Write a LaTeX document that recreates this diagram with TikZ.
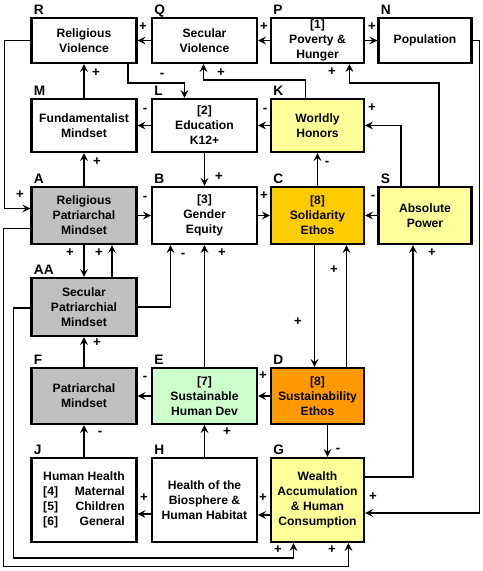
\documentclass[tikz,border=0pt]{standalone}
\usepackage{fontspec}
\setmainfont{Liberation Sans}
\usetikzlibrary{arrows,positioning,calc}
\definecolor{mindgray}{HTML}{C0C0C0}
\definecolor{paleyellow}{HTML}{FFFF99}
\definecolor{goldfill}{HTML}{FFCC00}
\definecolor{orangefill}{HTML}{FF9900}
\definecolor{palegreen}{HTML}{CCFFCC}

\begin{document}
\begin{tikzpicture}[
    x=0.02cm, y=-0.02cm,
    box/.style={rectangle, draw=black, line width=1.3pt, align=center, inner sep=0pt, font=\fontsize{6.9}{8.5}\selectfont\bfseries},
    wide/.style={minimum width=2.1cm},
    slim/.style={minimum width=1.86cm},
    arrow/.style={->, >=stealth, line width=0.95pt},
    sign/.style={font=\fontsize{7.5}{8}\selectfont\bfseries, inner sep=0pt},
    tag/.style={font=\fontsize{7.8}{8}\selectfont\bfseries, inner sep=0pt, anchor=base west, xshift=1.8pt, yshift=1.2pt}
]
\useasboundingbox (0,0) rectangle (483,571);

% Row 1
\node[box, wide, minimum height=0.9cm] (R) at (84,40.5) {Religious\\Violence};
\node[box, wide, minimum height=0.9cm] (Q) at (204.5,40.5) {Secular\\Violence};
\node[box, slim, minimum height=0.9cm] (P) at (317.5,40.5) {[1]\\Poverty \&\\Hunger};
\node[box, slim, minimum height=0.9cm] (N) at (425,40.5) {Population};

% Row 2
\node[box, wide, minimum height=1.06cm] (M) at (84,125.5) {Fundamentalist\\Mindset};
\node[box, wide, minimum height=1.06cm] (L) at (204.5,125.5) {[2]\\Education\\K12+};
\node[box, slim, minimum height=1.06cm, fill=paleyellow] (K) at (317.5,125.5) {Worldly\\Honors};

% Row 3
\node[box, wide, minimum height=1.14cm, fill=mindgray] (A) at (84,215.5) {Religious\\Patriarchal\\Mindset};
\node[box, wide, minimum height=1.14cm] (B) at (204.5,215.5) {[3]\\Gender\\Equity};
\node[box, slim, minimum height=1.14cm, fill=goldfill] (C) at (317.5,215.5) {[8]\\Solidarity\\Ethos};
\node[box, slim, minimum height=1.14cm, fill=paleyellow] (S) at (425,215.5) {Absolute\\Power};

% Row 4
\node[box, wide, minimum height=1.16cm, fill=mindgray] (AA) at (84,307) {Secular\\Patriarchial\\Mindset};

% Row 5
\node[box, wide, minimum height=1.12cm, fill=mindgray] (F) at (84,396) {Patriarchal\\Mindset};
\node[box, wide, minimum height=1.12cm, fill=palegreen] (E) at (204.5,396) {[7]\\Sustainable\\Human Dev};
\node[box, slim, minimum height=1.12cm, fill=orangefill] (D) at (317.5,396) {[8]\\Sustainability\\Ethos};

% Row 6
\node[box, wide, minimum height=1.68cm] (J) at (84,500) {%
    \begin{tabular}{@{}l@{\hspace{4pt}}r@{}}
    \multicolumn{2}{@{}c@{}}{Human Health}\\
    {[4]} & Maternal\\
    {[5]} & Children\\
    {[6]} & General
    \end{tabular}};
\node[box, wide, minimum height=1.68cm] (H) at (204.5,500) {Health of the\\Biosphere \&\\Human Habitat};
\node[box, slim, minimum height=1.68cm, fill=paleyellow] (G) at (317.5,500) {Wealth\\Accumulation\\\& Human\\Consumption};

% Letters
\node[tag] (tR) at (R.north west) {R};
\node[tag] (tQ) at (Q.north west) {Q};
\node[tag] (tP) at (P.north west) {P};
\node[tag] (tN) at (N.north west) {N};
\node[tag] (tM) at (M.north west) {M};
\node[tag] (tL) at (L.north west) {L};
\node[tag] (tK) at (K.north west) {K};
\node[tag] (tA) at (A.north west) {A};
\node[tag] (tB) at (B.north west) {B};
\node[tag] (tC) at (C.north west) {C};
\node[tag] (tS) at (S.north west) {S};
\node[tag] (tAA) at (AA.north west) {AA};
\node[tag] (tF) at (F.north west) {F};
\node[tag] (tE) at (E.north west) {E};
\node[tag] (tD) at (D.north west) {D};
\node[tag] (tJ) at (J.north west) {J};
\node[tag] (tH) at (H.north west) {H};
\node[tag] (tG) at (G.north west) {G};

% Top links
\draw[arrow] (Q) -- (R) node[sign] at (143,27) {+};
\draw[arrow] (P) -- (Q) node[sign] at (264,27) {+};
\draw[arrow] (P) -- (N) node[sign] at (372,27) {+};
\draw[arrow] (N.east) -- ++(7,0) |- ($(G.east)+(0,13)$) node[sign] at (373,497) {+};
\draw[arrow] ($(R.south)+(44,0)$) -- ++(0,19) -| ($(L.north)+(-20,0)$) node[sign] at (162,75) {-};
\draw[arrow] ($(K.north)+(-12,0)$) -- ++(0,-18) -| ($(Q.south)+(-1,0)$) node[sign] at (221,73) {+};
\draw[arrow] ($(S.north)+(14,0)$) -- ++(0,-103) -| ($(P.south)+(32,0)$) node[sign] at (332,72) {+};
\draw[arrow] ($(S.north)+(-24,0)$) |- (K.east) node[sign] at (372,108) {+};
\draw[arrow] (M) -- (R) node[sign] at (96,73) {+};

% Middle links
\draw[arrow] (K) -- (L) node[sign] at (265,110) {-};
\draw[arrow] (L) -- (M) node[sign] at (145,110) {-};
\draw[arrow] (C) -- (K) node[sign] at (327,163) {-};
\draw[arrow] (A) -- (M) node[sign] at (97,162) {+};
\draw[arrow] (L) -- (B) node[sign] at (219,177) {+};
\draw[arrow] (R.west) -- ++(-26,0) |- ($(A.west)+(0,-7)$) node[sign] at (20,195) {+};
\draw[arrow] (A) -- (B) node[sign] at (145,198) {-};
\draw[arrow] (B) -- (C) node[sign] at (264,196) {+};
\draw[arrow] (S) -- (C) node[sign] at (373,197) {-};
\draw[arrow] (A) -- (AA) node[sign] at (70,253) {+};
\draw[arrow] ($(AA.north)+(28,0)$) -- ($(A.south)+(28,0)$) node[sign] at (99,253) {+};
\draw[arrow] (AA.east) -| ($(B.south)+(-34,0)$) node[sign] at (183,255) {-};
\draw[arrow] (E) -- (B) node[sign] at (222,253) {+};
\draw[arrow] ($(C.south)+(-3,0)$) -- ($(D.north)+(-3,0)$) node[sign] at (298,322) {+};
\draw[arrow] ($(D.north)+(29,0)$) -- ($(C.south)+(29,0)$) node[sign] at (334,270) {+};
\draw[arrow] ($(G.east)+(0,-23)$) -| ($(S.south)+(-12,0)$) node[sign] at (432,253) {+};

% Lower links
\draw[arrow] (D) -- (E) node[sign] at (263,376) {+};
\draw[arrow] (E) -- (F) node[sign] at (145,378) {-};
\draw[arrow] (F) -- (AA) node[sign] at (97,343) {+};
\draw[arrow] (J) -- (F) node[sign] at (100,433) {-};
\draw[arrow] (H) -- (E) node[sign] at (227,432) {+};
\draw[arrow] ($(D.south)+(10,0)$) -- ($(G.north)+(10,0)$) node[sign] at (338,450) {-};
\draw[arrow] ($(H.west)+(0,14)$) -- ($(J.east)+(0,14)$) node[sign] at (144,498) {+};
\draw[arrow] ($(G.west)+(0,15)$) -- ($(H.east)+(0,15)$) node[sign] at (263,498) {+};

% Return lines round the left and bottom
\draw[arrow] ($(A.west)+(0,13)$) -- ++(-27,0) -- ++(0,338) -| ($(G.south)+(31,0)$) node[sign] at (332,550) {+};
\draw[arrow] ($(AA.west)+(0,1)$) -- ++(-17,0) -- ++(0,250) -| ($(G.south)+(-24,0)$) node[sign] at (278,550) {+};

\end{tikzpicture}
\end{document}
